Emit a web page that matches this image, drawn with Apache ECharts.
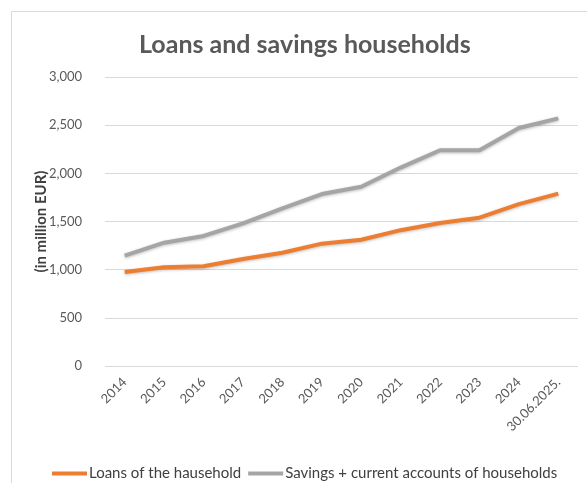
<!DOCTYPE html>
<html><head><meta charset="utf-8">
<script src="https://cdn.jsdelivr.net/npm/echarts@6/dist/echarts.min.js"></script>
<style>html,body{margin:0;padding:0;background:#fff}#c{width:587px;height:483px}</style>
</head><body><div id="c"></div>
<script>
const categories = ['2014','2015','2016','2017','2018','2019','2020','2021','2022','2023','2024','30.06.2025.'];
const loans = [975, 1025, 1035, 1110, 1175, 1270, 1310, 1410, 1485, 1540, 1680, 1790];
const savings = [1145, 1280, 1350, 1480, 1635, 1785, 1860, 2060, 2240, 2240, 2470, 2570];
const yTicks = [0, 500, 1000, 1500, 2000, 2500, 3000];
const seriesNames = ['Loans of the hausehold', 'Savings + current accounts of households'];

const chart = echarts.init(document.getElementById('c'), null, {renderer: 'canvas'});
const font = 'Lato, "Open Sans", sans-serif';
chart.setOption({
  animation: false,
  textStyle: {fontFamily: font},
  graphic: [{type: 'rect', shape: {x: 11.5, y: 11.5, width: 700, height: 600}, style: {fill: 'none', stroke: '#d9d9d9', lineWidth: 1}}],
  title: {text: 'Loans and savings households', left: 134, top: 27,
    textStyle: {fontFamily: font, fontSize: 25, fontWeight: 'bold', color: '#595959'}},
  legend: {top: 461, left: 47, itemGap: 7, itemWidth: 35, itemHeight: 4, icon: 'rect',
    textStyle: {fontFamily: font, fontSize: 15, color: '#404040', padding: [0,0,0,-3]},
    data: seriesNames},
  grid: {left: 105, right: 9, top: 77, bottom: 117, containLabel: false},
  xAxis: {type: 'category', data: categories, boundaryGap: true,
    axisLine: {show: false}, axisTick: {show: false},
    axisLabel: {rotate: 45, fontFamily: font, fontSize: 13, color: '#595959', margin: 14, interval: 0}},
  yAxis: {type: 'value', min: 0, max: 3000, interval: 500,
    name: '(in million EUR)', nameLocation: 'middle', nameGap: 56, nameRotate: 90, nameMoveOverlap: false,
    nameTextStyle: {fontFamily: font, fontSize: 15, fontWeight: 'bold', color: '#404040'},
    axisLabel: {fontFamily: font, fontSize: 13, color: '#595959', margin: 23,
      formatter: v => yTicks.includes(v) ? v.toLocaleString('en-US') : ''},
    splitLine: {lineStyle: {color: '#d9d9d9', width: 1}}},
  series: [
    {name: seriesNames[0], type: 'line', data: loans, symbol: 'none',
      lineStyle: {color: '#ED7D31', width: 4, shadowColor: 'rgba(0,0,0,0.25)', shadowBlur: 3, shadowOffsetY: 1}, itemStyle: {color: '#ED7D31'}},
    {name: seriesNames[1], type: 'line', data: savings, symbol: 'none',
      lineStyle: {color: '#A5A5A5', width: 4, shadowColor: 'rgba(0,0,0,0.25)', shadowBlur: 3, shadowOffsetY: 1}, itemStyle: {color: '#A5A5A5'}}
  ]
});
</script></body></html>
